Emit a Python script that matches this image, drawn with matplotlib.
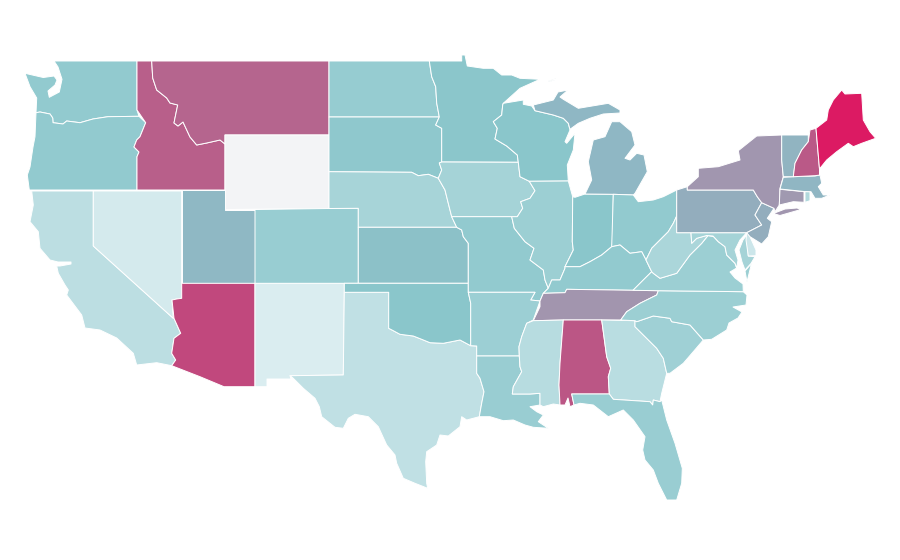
import matplotlib
matplotlib.use("Agg")
import matplotlib.pyplot as plt
from matplotlib.colors import LinearSegmentedColormap, Normalize
from matplotlib.patches import Polygon

states = ["WA","OR","CA","NV","ID","MT","WY","UT","AZ","NM","CO","TX","ND","SD","NE","KS","OK",
          "MN","IA","MO","AR","LA","WI","IL","IN","MI","OH","KY","TN","MS","AL","GA","FL","SC",
          "NC","VA","WV","MD","DE","PA","NJ","NY","CT","RI","MA","VT","NH","ME"]
values = [36,36,16,4,74,72,None,45,82,1,33,14,34,37.5,26,42,40,
          39.5,27,36,31,32.5,40,31.5,40,45.5,36,36,58,18,77,17,32.5,30,
          31.5,31.5,24,27,8,50,50,57.5,57,21,46,47,76,100]

scale_values = [0,40,46,50,58,72,82,100]
scale_colors = ["#dceef1","#8ac6cb","#90b6c3","#93aebd","#a295ae","#b5658e","#c1487d","#dc1a63"]
no_data_color = "#f3f4f6"

ID_MT = [(151.7,61),(152.7,78),(156.7,90),(166.7,98),(170,103),(177.7,105),(175,118),(174,123),(178,126),(183,122),(190,137),(196.7,145),(206.7,143),(220,140),(225,144)]
WA_OR = [(36,112.7),(40,112),(50,114),(52.7,118),(53,122.7),(63,124),(66.7,121),(80,122.7),(93,119),(108,116.7),(139,116.3)]
OR_ID = [(139,116.3),(145.7,122.7),(140,136.7),(136.7,140),(134,147),(139,152),(137,156.7),(137,190)]
ND_MN = [(429.3,61),(431.7,76.7),(435.7,86.7),(436.7,103),(439.3,117)]
SD_MN = [(439.3,117),(435.7,125),(441.7,128.3),(441.7,162)]
SD_NE = [(329,171.7),(411.7,172.3),(418.3,175.7),(428.3,174.3),(438.3,178.3)]
NE_IA = [(438.3,178.3),(445,190),(448.3,203.3),(451.7,216.7)]
NE_MO = [(451.7,216.7),(456.7,227.3)]
KS_MO = [(456.7,227.3),(461.7,230),(463.3,236.7),(468.3,243.3),(468.3,283.3)]
RED = [(388.7,328.3),(393.3,330.7),(400,334.3),(413.3,336),(421.7,339.3),(430,342.7),(443.3,343.3),(460,340),(470.7,345.7)]
MN_WI = [(503.3,103.3),(502.7,105),(501.7,115),(493.3,121.7),(497.3,128.3),(495,139),(506.7,146),(517.3,155),(518.3,162.3)]
WI_IA = [(518.3,162.3),(520,176.7),(526.7,180),(529.3,181.3)]
IA_IL = [(529.3,181.3),(535,190.7),(530,198.3),(520.7,201.7),(522.7,208.3),(517.3,216.7),(511.7,216.7)]
MO_IL = [(511.7,216.7),(514.3,228.3),(525,241.7),(534,248.3),(530,260),(543.3,270),(545,280),(548.3,288.3)]
IL_KY = [(548.3,288.3),(551.7,280),(560,280),(565,268.3),(565,266.7)]
KY_N = [(565,266.7),(580,266.7),(590,261.7),(601.7,255),(611.7,246.7),(620,245),(630,253.3),(641.7,251.7),(646,260)]
AR_E = [(540,301),(533.3,320),(526.7,323.3),(521.7,336.7),(519,346.7),(519.3,356)]
LA_MS = [(519.3,356),(520,366.7),(521.7,371.7),(513.3,386.7),(512.3,394),(530,394),(540,393.3),(540,405)]
AL_GA = [(601.7,320),(606.7,356.7),(610.7,368.3),(608.3,376.7),(609.3,394)]
GA_SC = [(635,320.7),(635,326.7),(656.7,348.3),(663.3,358.3),(666.7,373.3)]
SC_NC = [(635,320.7),(636.7,321.7),(653.3,316),(670,318.3),(671.7,321.7),(690,325),(703.3,340)]
TN_NC = [(620.7,320),(626.7,311.7),(640,303.3),(656.7,295),(658.3,290.7)]
OH_WV = [(676.7,216),(673.3,223.3),(668.3,231.7),(658.3,241.7),(651.7,248.3),(646,260)]
WV_VA = [(646,260),(651.7,271.7),(653.3,273.3),(660,278.3),(676.7,273.3),(690,255),(701.7,243.3),(708,235.5),(713,236)]
MD_VA = [(713,236),(718.3,241.7),(725,246.7),(726.7,255),(735,263.3),(736.7,268)]
MD_WV = [(691,232.7),(691.7,243.3),(696.7,238.3),(706.7,235.5),(713,236)]
PA_NJ = [(753.3,190),(757.3,196.7),(761.7,202.7),(755,215),(761.7,225),(746.7,232.7)]
NY_E = [(781.7,135),(781.7,160),(783.3,176.7),(780,188.3),(779.3,205),(775,211.7),(774,208.3),(761.7,202.7)]
VT_NH = [(808.3,135),(808.3,141.7),(801.7,150),(795,163.3),(793.3,176.7)]
ME_NH = [(816,128.3),(819.3,166.7),(820,175)]

def r(seq):
    return seq[::-1]

outlines = {
 "WA": [[(54,61),(137,61),(137,110),(139,116.3)] + r(WA_OR) + [(36.7,98),(30,86.7),(25,73.3),(43.3,77.5),(54,76),(57,80),(55,85),(48,91),(49.3,97.3),(59.3,92),(62,79.3),(58,67)]],
 "OR": [WA_OR + OR_ID[1:] + [(29.3,190),(27.3,175),(30,167),(33,147),(35,136.7)]],
 "CA": [[(31.7,191),(93.3,191),(93.3,246),(173.3,318.3),(174,318.3),(180.7,333.3),(174,338.3),(171.7,353.3),(175.7,360),(171.7,365.7),(156.7,362.7),(136.7,365),(133.3,353.3),(116.7,338),(100,330),(85,328),(81.7,315),(66.7,295),(68.3,290),(65,285),(58.3,273.3),(56.7,266),(60,266),(71,264),(71,262),(58,262),(50,260),(40,248.3),(38.3,231.7),(30,221.7),(33.3,205)]],
 "NV": [[(93.3,191),(181.7,191),(181.7,298.3),(176.7,299),(172,300),(173.3,318.3),(93.3,246)]],
 "ID": [[(137,61)] + ID_MT + [(225,190),(137,190)] + r(OR_ID)[:-1] + [(137,110)]],
 "MT": [ID_MT + [(225,135),(329,135),(329,61)]],
 "WY": [[(225,135),(329,135),(329,208.5),(225,209.5)]],
 "UT": [[(181.7,190),(225,190),(225,209.5),(255,209.5),(255,283.3),(181.7,283.3)]],
 "AZ": [[(181.7,283.3),(255,283.3),(255,386.7),(224,386.7),(200,376.7),(171.7,365.7),(175.7,360),(171.7,353.3),(174,338.3),(180.7,333.3),(174,318.3),(172,300),(176.7,299),(181.7,298.3)]],
 "NM": [[(255,283.3),(344.3,283.3),(344.3,292.3),(343.3,375),(290,375.7),(291,379),(267,379),(267,386.7),(255,386.7)]],
 "CO": [[(255,209.5),(329,208.5),(358.3,208.3),(358.3,283.3),(255,283.3)]],
 "TX": [[(290,375.7),(343.3,375),(344.3,292.3),(388.7,292.3)] + RED + [(476.7,346),(476.7,373.3),(480,378.3),(484,391.7),(481.7,403.3),(479.3,416.7),(466.7,420),(461.7,416.7),(460,426.7),(448.3,436),(440,435),(436.7,445),(426.7,451.7),(425.7,461.7),(426.7,483.3),(427.7,488.3),(415,483.3),(403.3,478.3),(396.7,463.3),(395,455),(386.7,445),(378.3,426.7),(368.3,416.7),(355,414.3),(348.3,418.3),(343.3,428.3),(335,427.3),(321.7,416.7),(319.3,406.7),(315,398.3),(303.3,388.3),(293.3,378.3)]],
 "ND": [[(329,61)] + ND_MN + [(329,117)]],
 "SD": [[(329,117),(439.3,117)] + SD_MN[1:] + [(439.3,163),(441.7,170)] + r(SD_NE)],
 "NE": [SD_NE + NE_IA[1:] + NE_MO[1:] + [(358.3,227.3),(358.3,208.3),(329,208.5)]],
 "KS": [[(358.3,227.3)] + KS_MO + [(358.3,283.3)]],
 "OK": [[(344.3,283.3),(468.3,283.3),(468.3,292.3),(470.7,303.3),(470.7,345.7)] + r(RED) + [(388.7,292.3),(344.3,292.3)]],
 "MN": [ND_MN[:-1] + SD_MN + r([(429.3,61),(461.7,61),(461.7,55),(465,55),(467.3,66),(483.3,68.3),(493.3,68.3),(501.7,75),(511.7,75),(520,78.3),(540,79.3),(520,88.3)] + MN_WI)],
 "IA": [[(441.7,162),(518.3,162.3)] + WI_IA[1:] + IA_IL[1:] + r(NE_IA) + [(441.7,170),(439.3,163)]],
 "MO": [[(451.7,216.7),(511.7,216.7)] + MO_IL[1:] + [(543.3,293.3),(540,301),(530.7,300),(535,292.3),(468.3,292.3),(468.3,283.3)] + r(KS_MO)[1:]],
 "AR": [[(468.3,292.3),(535,292.3),(530.7,300)] + AR_E + [(476.7,356),(476.7,346),(470.7,345.7),(470.7,303.3)]],
 "LA": [[(476.7,356)] + LA_MS + [(530,406.7),(536.7,411.7),(543.3,415),(538.3,421.7),(548.3,428.3),(533.3,427.3),(525,425),(513.3,420),(503.3,420.7),(490,416.7),(479.3,416.7),(481.7,403.3),(484,391.7),(480,378.3),(476.7,373.3)]],
 "WI": [MN_WI + WI_IA[1:] + [(568.3,181),(567.3,165),(573.3,150),(575,133.3),(566.7,143.3),(565,141.7),(570,130),(568.3,123.3),(563.3,118.3),(553.3,115),(535,110.7),(531.7,106),(523.3,104.3),(523.3,100)]],
 "IL": [[(529.3,181.3),(568.3,181),(572.7,196.7),(572.3,241.7),(573.3,250),(565,266.7),(565,268.3),(560,280),(551.7,280),(548.3,288.3)] + r(MO_IL)[1:] + r(IA_IL)[1:]],
 "IN": [[(572.7,196.7),(575,197.3),(585,194),(613.3,194.3),(612.3,243.3),(611.7,246.7),(601.7,255),(590,261.7),(580,266.7),(565,266.7),(573.3,250),(572.3,241.7)]],
 "MI": [[(585,194),(591.7,180),(588.3,161.7),(593.3,140),(605,136.7),(611.7,121.7),(620,121.7),(631.7,131.7),(635,145),(625,158.3),(630,160),(636.7,153.3),(644,155),(647.3,171.7),(635,193.3),(633.3,195),(613.3,194.3)],
        [(533.3,105),(553.3,100),(558,92),(568,90),(560,97),(563.3,99.3),(578.3,108.3),(608.3,103.3),(620,110),(620,113),(603.3,114),(590,118.3),(578.3,123.3),(570,129.3),(568.3,123.3),(563.3,118.3),(553.3,115),(535,110.7)],
        [(548.5,81),(556,78.5),(556,79.5),(549,82)]],
 "OH": [[(613.3,194.3),(633.3,195),(638.3,201.7),(653.3,200),(663.3,196.7),(676.7,190)] + OH_WV + r(KY_N)[1:5]],
 "KY": [[(548.3,288.3)] + IL_KY[1:] + KY_N[1:] + [(651.7,271.7),(643.3,280),(633,290.3),(566.7,289.3),(565,292.7),(545,293.3),(543.3,293.3)]],
 "TN": [[(545,293.3),(565,292.7),(566.7,289.3),(633,290.3),(658.3,290.7),(656.7,295),(640,303.3),(626.7,311.7),(620.7,320),(601.7,320),(563.3,320),(533.3,320.7),(540,306.7),(540,301),(543.3,293.3)]],
 "MS": [[(533.3,320.7),(563.3,320),(560,363.3),(559,385),(560,405),(553.3,404),(543.3,406.7),(540,405),(540,393.3),(530,394),(512.3,394),(513.3,386.7),(521.7,371.7),(520,366.7),(519.3,356),(519,346.7),(521.7,336.7),(526.7,323.3)]],
 "AL": [[(563.3,320)] + AL_GA + [(571.7,394),(574,405),(570,406.7),(568,398),(565,405),(560,405),(559,385),(560,363.3)]],
 "GA": [AL_GA + [(613.3,399.3),(650,401.7),(652.7,405),(653.3,400),(660,401.7),(661.7,393.3)] + r(GA_SC)],
 "FL": [[(571.7,394),(609.3,394),(613.3,399.3),(650,401.7),(652.7,405),(653.3,400),(660,401.7),(661.7,400),(666.7,420),(675,443.3),(682.3,468.3),(681.7,483.3),(676.7,500),(666.7,500),(658.3,483.3),(653.3,470),(645,460),(642.7,450),(645,436.7),(633.3,420),(623.3,410),(608.3,416.7),(593.3,405),(580,403.3),(574,405)]],
 "SC": [SC_NC + [(693.3,351.7),(683.3,363.3),(670,373.3),(666.7,373.3)] + r(GA_SC)[1:]],
 "NC": [TN_NC + [(743.3,291.7),(747,295),(746,305),(733,307),(742,312),(738,318),(729,323),(726.7,330),(711.7,339.3)] + r(SC_NC) + [(620.7,320)]],
 "VA": [[(633,290.3),(643.3,280),(651.7,271.7)] + WV_VA[2:] + MD_VA[1:] + [(730,272),(735,278),(743,284),(743.3,291.7),(658.3,290.7)],
        [(745,271),(751.5,263.5),(747,282)]],
 "WV": [[(676.7,216),(676.7,232.7),(691,232.7)] + MD_WV[1:] + r(WV_VA)[1:] + r(OH_WV)[1:]],
 "MD": [[(691,232.7),(746.7,232.7),(740,240),(735,250),(738,260),(736.7,268)] + r(MD_VA)[1:-1] + r(MD_WV)[:-1],
        [(746.7,235),(748.3,256),(755,256.7),(751,263.5),(745,270),(742,262),(739,250),(743,240)]],
 "DE": [[(746.7,231.7),(750,236.7),(756,250),(756,255.7),(748.3,256),(746,240)]],
 "PA": [[(676.7,190),(687.3,186.7),(687.3,190)] + PA_NJ + [(676.7,232.7)]],
 "NJ": [[(761.7,202.7),(774,208.3),(767.3,218.3),(771.7,221.7),(768.3,236.7),(761.7,244),(750,236.7),(746.7,232.7),(761.7,225),(755,215)]],
 "NY": [[(687.3,190),(687.3,186.7),(698.3,176.7),(698.3,168.3),(718.3,166.7),(740,160),(738.3,150.7),(756.7,136)] + NY_E + [(757.3,196.7),(753.3,190)],
        [(773.3,213.5),(785,209),(797,208),(801,209.5),(780,215.5)]],
 "CT": [[(780,189.3),(804,191.7),(804,202.3),(793.3,201.7),(779.3,205)]],
 "RI": [[(805,191.7),(810,191.7),(810,200.7),(805,202.3)]],
 "MA": [[(783.3,177.3),(793.3,176.7),(815,176),(820,175),(821.7,183.3),(818.3,186.7),(823.3,195),(830,195),(821.7,198.3),(815,198.3),(811,191.7),(804,191.5),(780,189)]],
 "VT": [[(781.7,135)] + VT_NH + [(783.3,176.7),(781.7,160)]],
 "NH": [[(810,130),(816,128.3)] + ME_NH[1:] + [(815,175.7)] + r(VT_NH)[:-1]],
 "ME": [ME_NH + [(820,168.3),(826.7,160),(836.7,151.7),(848.3,143.3),(853.3,146.7),(861.7,143.3),(875.7,138.3),(870,131.7),(863.3,120),(861.7,93.3),(845,94),(841.7,90),(833.3,100),(828.3,110),(826.7,120)]],
}

cmap = LinearSegmentedColormap.from_list(
    "rate", [(v / max(scale_values), c) for v, c in zip(scale_values, scale_colors)])
norm = Normalize(min(scale_values), max(scale_values))

fig = plt.figure(figsize=(9, 5.6), dpi=100, facecolor="white")
ax = fig.add_axes([0, 0, 1, 1])
ax.set_xlim(0, 900)
ax.set_ylim(560, 0)
ax.axis("off")

for state, value in zip(states, values):
    color = no_data_color if value is None else cmap(norm(value))
    for ring in outlines[state]:
        ax.add_patch(Polygon(ring, closed=True, facecolor=color, edgecolor="white", linewidth=0.7, joinstyle="round"))

fig.savefig("out.png", dpi=100)
